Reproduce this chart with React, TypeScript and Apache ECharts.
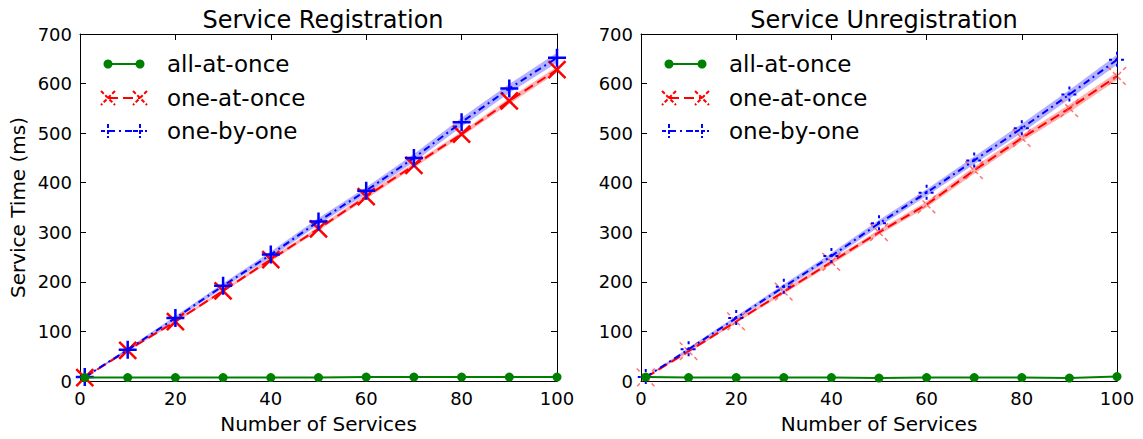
import { useEffect, useRef } from 'react';
import * as echarts from 'echarts';

const services = [1, 10, 20, 30, 40, 50, 60, 70, 80, 90, 100];
const legendLabels = ['all-at-once', 'one-at-once', 'one-by-one'];
const titles = ['Service Registration', 'Service Unregistration'];

// Service Registration
const regAllAtOnce = [7, 7, 7, 7, 7, 7, 8, 8, 8, 8, 8];
const regOneAtOnce = [7, 62, 120, 182, 245, 307, 372, 435, 498, 565, 628];
const regOneAtOnceSpread = [1, 2, 3, 3, 4, 4, 5, 5, 5, 6, 6];
const regOneByOne = [8, 63, 127, 192, 255, 322, 384, 450, 522, 590, 652];
const regOneByOneSpread = [1, 3, 4, 5, 6, 7, 7, 8, 9, 9, 10];

// Service Unregistration
const unregAllAtOnce = [8, 7, 7, 7, 7, 6, 7, 7, 7, 6, 9];
const unregOneAtOnce = [7, 60, 120, 180, 240, 300, 356, 425, 490, 550, 615];
const unregOneAtOnceSpread = [1, 3, 3, 4, 5, 5, 6, 7, 7, 8, 8];
const unregOneByOne = [8, 64, 127, 190, 252, 318, 380, 445, 510, 578, 648];
const unregOneByOneSpread = [1, 3, 4, 5, 6, 7, 7, 8, 9, 9, 10];

const FONT = '"DejaVu Sans", sans-serif';
const X_PATH = 'path://M0,0L10,10M10,0L0,10';
const PLUS_PATH = 'path://M5,0L5,10M0,5L10,5';

const pairs = (ys: number[]) => services.map((x, i) => [x, ys[i]]);

function bandSeries(axisIdx: number, mean: number[], spread: number[], color: string) {
  const data = services.map((x, i) => [x, mean[i] - spread[i], mean[i] + spread[i]]);
  return {
    type: 'custom', xAxisIndex: axisIdx, yAxisIndex: axisIdx, silent: true, z: 1,
    data,
    clip: true,
    encode: { x: 0, y: [1, 2] },
    renderItem: (params: any, api: any) => {
      if (params.dataIndex !== 0) return null;
      const upper = data.map((d) => api.coord([d[0], d[2]]));
      const lower = data.map((d) => api.coord([d[0], d[1]])).reverse();
      return {
        type: 'polygon',
        shape: { points: [...upper, ...lower] },
        style: { fill: color },
      };
    },
  };
}

function panelSeries(axisIdx: number, thin: boolean, all: number[], oao: number[], oaoS: number[], obo: number[], oboS: number[]) {
  return [
    bandSeries(axisIdx, oao, oaoS, 'rgba(255,0,0,0.3)'),
    bandSeries(axisIdx, obo, oboS, 'rgba(0,0,255,0.3)'),
    {
      name: legendLabels[1], type: 'line', xAxisIndex: axisIdx, yAxisIndex: axisIdx, data: pairs(oao),
      symbol: X_PATH, symbolSize: thin ? 18 : 17, z: 3,
      lineStyle: { color: 'red', width: 2, type: [10, 5] },
      itemStyle: thin
        ? { color: 'red', borderColor: 'rgba(255,70,70,0.75)', borderWidth: 1.5, borderType: [4, 3] }
        : { color: 'red', borderColor: 'red', borderWidth: 2.5 },
    },
    {
      name: legendLabels[2], type: 'line', xAxisIndex: axisIdx, yAxisIndex: axisIdx, data: pairs(obo),
      symbol: PLUS_PATH, symbolSize: thin ? 16 : 18, z: 4,
      lineStyle: { color: 'blue', width: 2, type: [7, 4, 2, 4] },
      itemStyle: thin
        ? { color: 'blue', borderColor: 'blue', borderWidth: 2, borderType: [3, 3] }
        : { color: 'blue', borderColor: 'blue', borderWidth: 2.5 },
    },
    {
      name: legendLabels[0], type: 'line', xAxisIndex: axisIdx, yAxisIndex: axisIdx, data: pairs(all),
      symbol: 'circle', symbolSize: 9, z: 5,
      lineStyle: { color: 'green', width: 2 },
      itemStyle: { color: 'green', borderWidth: 0 },
    },
  ];
}

function legendGraphics(x1: number, x2: number, tx: number) {
  const rows = [64, 98, 131];
  const els: any[] = [];
  els.push({ type: 'line', shape: { x1, y1: rows[0], x2, y2: rows[0] }, style: { stroke: 'green', lineWidth: 2 } });
  [x1, x2].forEach((cx) => els.push({ type: 'circle', shape: { cx, cy: rows[0], r: 4.5 }, style: { fill: 'green' } }));
  els.push({ type: 'line', shape: { x1, y1: rows[1], x2, y2: rows[1] }, style: { stroke: 'red', lineWidth: 2, lineDash: [10, 5] } });
  [x1, x2].forEach((cx) => {
    els.push({ type: 'line', shape: { x1: cx - 7, y1: rows[1] - 7, x2: cx + 7, y2: rows[1] + 7 }, style: { stroke: 'red', lineWidth: 2, lineDash: [4, 2] } });
    els.push({ type: 'line', shape: { x1: cx + 7, y1: rows[1] - 7, x2: cx - 7, y2: rows[1] + 7 }, style: { stroke: 'red', lineWidth: 2, lineDash: [4, 2] } });
  });
  els.push({ type: 'line', shape: { x1, y1: rows[2], x2, y2: rows[2] }, style: { stroke: 'blue', lineWidth: 2, lineDash: [7, 4, 2, 4] } });
  [x1, x2].forEach((cx) => {
    els.push({ type: 'line', shape: { x1: cx, y1: rows[2] - 7, x2: cx, y2: rows[2] + 7 }, style: { stroke: 'blue', lineWidth: 2, lineDash: [4, 2] } });
    els.push({ type: 'line', shape: { x1: cx - 7, y1: rows[2], x2: cx + 7, y2: rows[2] }, style: { stroke: 'blue', lineWidth: 2, lineDash: [4, 2] } });
  });
  legendLabels.forEach((t, i) => {
    els.push({ type: 'text', x: tx, y: rows[i], style: { text: t, fill: '#000', font: `23px ${FONT}`, verticalAlign: 'middle', align: 'left' } });
  });
  return els;
}

export default function App() {
  const ref = useRef<HTMLDivElement>(null);
  useEffect(() => {
    if (!ref.current) return;
    const chart = echarts.init(ref.current, undefined, { renderer: 'svg' });
    const grids = [
      { left: 80, top: 34, width: 477, height: 348 },
      { left: 641, top: 34, width: 476, height: 348 },
    ];
    const tickLabel = { color: '#000', fontSize: 18, fontFamily: FONT };
    const nameStyle = { color: '#000', fontSize: 20, fontFamily: FONT };
    const xAxes: any[] = [];
    const yAxes: any[] = [];
    [0, 1].forEach((g) => {
      xAxes.push({
        type: 'value', gridIndex: g, min: 0, max: 100, interval: 20, position: 'bottom',
        name: 'Number of Services', nameLocation: 'middle', nameGap: 33,
        nameTextStyle: nameStyle,
        axisLine: { show: true, onZero: false, lineStyle: { color: '#000', width: 1 } },
        axisTick: { show: true, inside: true, length: 6, lineStyle: { color: '#000' } },
        axisLabel: { ...tickLabel, margin: 8 },
        splitLine: { show: false },
      });
      xAxes.push({
        type: 'value', gridIndex: g, min: 0, max: 100, interval: 20, position: 'top',
        axisLine: { show: true, onZero: false, lineStyle: { color: '#000', width: 1 } },
        axisTick: { show: true, inside: true, length: 6, lineStyle: { color: '#000' } },
        axisLabel: { show: false }, splitLine: { show: false },
      });
      yAxes.push({
        type: 'value', gridIndex: g, min: 0, max: 700, interval: 100, position: 'left',
        name: g === 0 ? 'Service Time (ms)' : '', nameLocation: 'middle', nameGap: 52,
        nameTextStyle: nameStyle,
        axisLine: { show: true, onZero: false, lineStyle: { color: '#000', width: 1 } },
        axisTick: { show: true, inside: true, length: 6, lineStyle: { color: '#000' } },
        axisLabel: { ...tickLabel, margin: 8 },
        splitLine: { show: false },
      });
      yAxes.push({
        type: 'value', gridIndex: g, min: 0, max: 700, interval: 100, position: 'right',
        axisLine: { show: true, onZero: false, lineStyle: { color: '#000', width: 1 } },
        axisTick: { show: true, inside: true, length: 6, lineStyle: { color: '#000' } },
        axisLabel: { show: false }, splitLine: { show: false },
      });
    });
    const s0 = panelSeries(0, false, regAllAtOnce, regOneAtOnce, regOneAtOnceSpread, regOneByOne, regOneByOneSpread);
    const s1 = panelSeries(2, true, unregAllAtOnce, unregOneAtOnce, unregOneAtOnceSpread, unregOneByOne, unregOneByOneSpread);
    const titleStyle = { color: '#000', fontSize: 24, fontWeight: 'normal' as const, fontFamily: FONT };
    chart.setOption({
      animation: false,
      backgroundColor: '#fff',
      title: [
        { text: titles[0], left: 318, top: 3, textAlign: 'center', textStyle: titleStyle },
        { text: titles[1], left: 879, top: 3, textAlign: 'center', textStyle: titleStyle },
      ],
      grid: grids,
      xAxis: xAxes,
      yAxis: yAxes,
      series: [...s0, ...s1],
      graphic: [...legendGraphics(108, 140, 167), ...legendGraphics(669, 702, 729)],
    });
    return () => chart.dispose();
  }, []);
  return <div ref={ref} style={{ position: 'fixed', left: 0, top: 0, width: 1143, height: 439 }} />;
}
